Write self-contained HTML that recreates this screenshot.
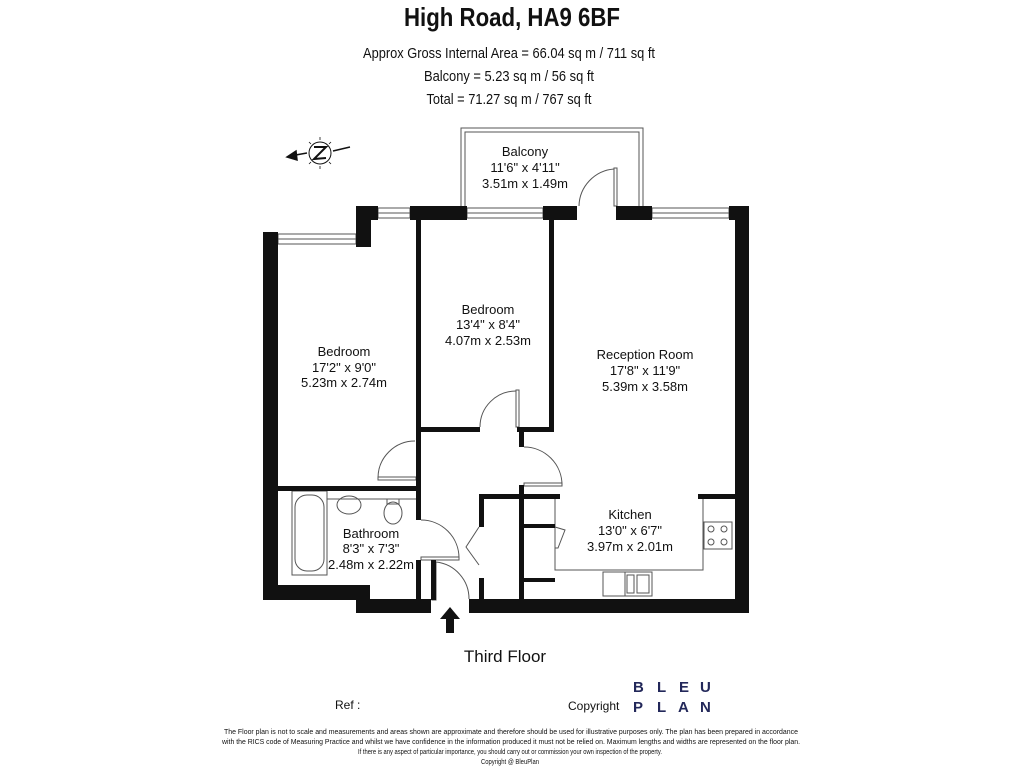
<!DOCTYPE html>
<html><head><meta charset="utf-8"><style>
html,body{margin:0;padding:0;background:#fff;width:1024px;height:768px;overflow:hidden}
svg{display:block}
text{font-family:"Liberation Sans Narrow","Liberation Sans",sans-serif;fill:#111}
</style></head><body>
<svg width="1024" height="768" viewBox="0 0 1024 768" xmlns="http://www.w3.org/2000/svg">
<!-- header -->
<text x="512" y="26" font-size="26" font-weight="bold" text-anchor="middle" textLength="216" lengthAdjust="spacingAndGlyphs">High Road, HA9 6BF</text>
<text x="509" y="58" font-size="15" text-anchor="middle" textLength="292" lengthAdjust="spacingAndGlyphs">Approx Gross Internal Area = 66.04 sq m / 711 sq ft</text>
<text x="509" y="81" font-size="15" text-anchor="middle" textLength="170" lengthAdjust="spacingAndGlyphs">Balcony = 5.23 sq m / 56 sq ft</text>
<text x="509" y="104" font-size="15" text-anchor="middle" textLength="165" lengthAdjust="spacingAndGlyphs">Total = 71.27 sq m / 767 sq ft</text>

<!-- compass -->
<g stroke="#111" fill="none" stroke-width="1.5">
<circle cx="320" cy="153" r="11" stroke-width="1"/>
<line x1="290" y1="156" x2="307" y2="153"/>
<polygon points="287,157 296,151 297,160" fill="#111"/>
<line x1="333" y1="151" x2="350" y2="147"/>
<path d="M314 147 L326 147 L314 159 L326 158" stroke-width="2"/>
</g>
<g stroke="#111" stroke-width="0.8">
<line x1="320" y1="137" x2="320" y2="140"/><line x1="320" y1="166" x2="320" y2="169"/>
<line x1="309" y1="142" x2="311" y2="144"/><line x1="331" y1="142" x2="329" y2="144"/>
<line x1="309" y1="164" x2="311" y2="162"/><line x1="331" y1="164" x2="329" y2="162"/>
</g>

<!-- balcony -->
<g fill="none" stroke="#555" stroke-width="1">
<path d="M461 206 V128 H643 V206"/>
<path d="M465 206 V132 H639 V206"/>
</g>
<text x="525" y="156" font-size="13" text-anchor="middle">Balcony</text>
<text x="525" y="172" font-size="13" text-anchor="middle">11'6" x 4'11"</text>
<text x="525" y="188" font-size="13" text-anchor="middle">3.51m x 1.49m</text>

<!-- thin lines / windows / doors -->
<g fill="none" stroke="#555" stroke-width="1">
<rect x="278" y="234" width="78" height="10"/><line x1="278" y1="239" x2="356" y2="239"/>
<rect x="378" y="208" width="32" height="10"/><line x1="378" y1="213" x2="410" y2="213"/>
<rect x="467" y="208" width="76" height="10"/><line x1="467" y1="213" x2="543" y2="213"/>
<rect x="652" y="208" width="77" height="10"/><line x1="652" y1="213" x2="729" y2="213"/>
<!-- balcony door -->
<path d="M579 206 A38 38 0 0 1 614 169"/><rect x="614" y="168" width="3" height="38"/>
<!-- bedroom2 door -->
<path d="M480 427 A36 36 0 0 1 516 391"/><rect x="516" y="390" width="3" height="37"/>
<!-- bedroom1 door -->
<path d="M378 478 A37 37 0 0 1 415 441"/><rect x="378" y="477" width="38" height="3"/>
<!-- reception door -->
<path d="M524 447 A38 38 0 0 1 562 485"/><rect x="524" y="483" width="38" height="3"/>
<!-- bathroom door -->
<path d="M421 520 A38 38 0 0 1 459 558"/><rect x="421" y="557" width="38" height="3"/>
<!-- entry door -->
<path d="M436 562 A37 37 0 0 1 469 599"/><rect x="432" y="562" width="4" height="38"/>
<!-- cupboard bifold -->
<path d="M479 527 L466 547 L479 565"/>
<!-- kitchen -->
<path d="M555 499 V570 H703 V499"/>
<path d="M555 527 L565 530 L558 548 L555 548"/>
<rect x="704" y="522" width="28" height="27"/>
<circle cx="711" cy="529" r="3"/><circle cx="724" cy="529" r="3"/>
<circle cx="711" cy="542" r="3"/><circle cx="724" cy="542" r="3"/>
<rect x="603" y="572" width="49" height="24"/><line x1="625" y1="572" x2="625" y2="596"/>
<rect x="627" y="575" width="7" height="18"/><rect x="637" y="575" width="12" height="18"/>
<!-- bathroom fixtures -->
<rect x="292" y="491" width="35" height="84"/>
<rect x="295" y="495" width="29" height="76" rx="12"/>
<line x1="327" y1="499" x2="416" y2="499"/>
<ellipse cx="349" cy="505" rx="12" ry="9"/>
<ellipse cx="393" cy="513" rx="9" ry="11"/><rect x="387" y="499" width="12" height="5"/>
</g>

<!-- thick walls -->
<g fill="#111">
<rect x="263" y="232" width="15" height="368"/>
<rect x="263" y="585" width="107" height="15"/>
<rect x="356" y="585" width="14" height="28"/>
<rect x="356" y="599" width="75" height="14"/>
<rect x="469" y="599" width="280" height="14"/>
<rect x="735" y="206" width="14" height="407"/>
<rect x="356" y="206" width="22" height="14"/>
<rect x="356" y="206" width="15" height="41"/>
<rect x="410" y="206" width="57" height="14"/>
<rect x="543" y="206" width="34" height="14"/>
<rect x="616" y="206" width="36" height="14"/>
<rect x="729" y="206" width="20" height="14"/>
<!-- interior -->
<rect x="416" y="218" width="5" height="270"/>
<rect x="549" y="218" width="5" height="214"/>
<rect x="416" y="427" width="64" height="5"/>
<rect x="517" y="427" width="37" height="5"/>
<rect x="519" y="427" width="5" height="20"/>
<rect x="278" y="486" width="143" height="5"/>
<rect x="416" y="478" width="5" height="42"/>
<rect x="416" y="560" width="5" height="40"/>
<rect x="431" y="560" width="5" height="40"/>
<rect x="479" y="494" width="5" height="33"/>
<rect x="479" y="578" width="5" height="22"/>
<rect x="479" y="494" width="81" height="5"/>
<rect x="519" y="485" width="5" height="115"/>
<rect x="519" y="524" width="36" height="4"/>
<rect x="519" y="578" width="36" height="4"/>
<rect x="698" y="494" width="37" height="5"/>
<!-- entry arrow -->
<polygon points="450,607 440,619 446,619 446,633 454,633 454,619 460,619"/>
</g>

<!-- room labels -->
<g font-size="13" text-anchor="middle">
<text x="344" y="356">Bedroom</text><text x="344" y="372">17'2" x 9'0"</text><text x="344" y="387">5.23m x 2.74m</text>
<text x="488" y="314">Bedroom</text><text x="488" y="329">13'4" x 8'4"</text><text x="488" y="345">4.07m x 2.53m</text>
<text x="645" y="359">Reception Room</text><text x="645" y="375">17'8" x 11'9"</text><text x="645" y="391">5.39m x 3.58m</text>
<text x="630" y="519">Kitchen</text><text x="630" y="535">13'0" x 6'7"</text><text x="630" y="551">3.97m x 2.01m</text>
<text x="371" y="538">Bathroom</text><text x="371" y="553">8'3" x 7'3"</text><text x="371" y="569">2.48m x 2.22m</text>
</g>

<text x="505" y="662" font-size="17" text-anchor="middle">Third Floor</text>

<!-- footer -->
<text x="335" y="709" font-size="12">Ref  :</text>
<text x="568" y="710" font-size="12">Copyright</text>
<g font-family="Liberation Sans" font-weight="bold" font-size="15" fill="#23285a">
<text x="633" y="692" style="fill:#23285a">B</text><text x="657" y="692" style="fill:#23285a">L</text><text x="679" y="692" style="fill:#23285a">E</text><text x="700" y="692" style="fill:#23285a">U</text>
<text x="633" y="712" style="fill:#23285a">P</text><text x="657" y="712" style="fill:#23285a">L</text><text x="678" y="712" style="fill:#23285a">A</text><text x="700" y="712" style="fill:#23285a">N</text>
</g>
<g font-size="7" text-anchor="middle">
<text x="511" y="734" textLength="574" lengthAdjust="spacingAndGlyphs">The Floor plan is not to scale and measurements and areas shown are approximate and therefore should be used for illustrative purposes only. The plan has been prepared in accordance</text>
<text x="511" y="744" textLength="578" lengthAdjust="spacingAndGlyphs">with the RICS code of Measuring Practice and whilst we have confidence in the information produced it must not be relied on. Maximum lengths and widths are represented on the floor plan.</text>
<text x="510" y="754" textLength="304" lengthAdjust="spacingAndGlyphs">If there is any aspect of particular importance, you should carry out or commission your own inspection of the property.</text>
<text x="510" y="764" textLength="58" lengthAdjust="spacingAndGlyphs">Copyright @ BleuPlan</text>
</g>
</svg>
</body></html>
